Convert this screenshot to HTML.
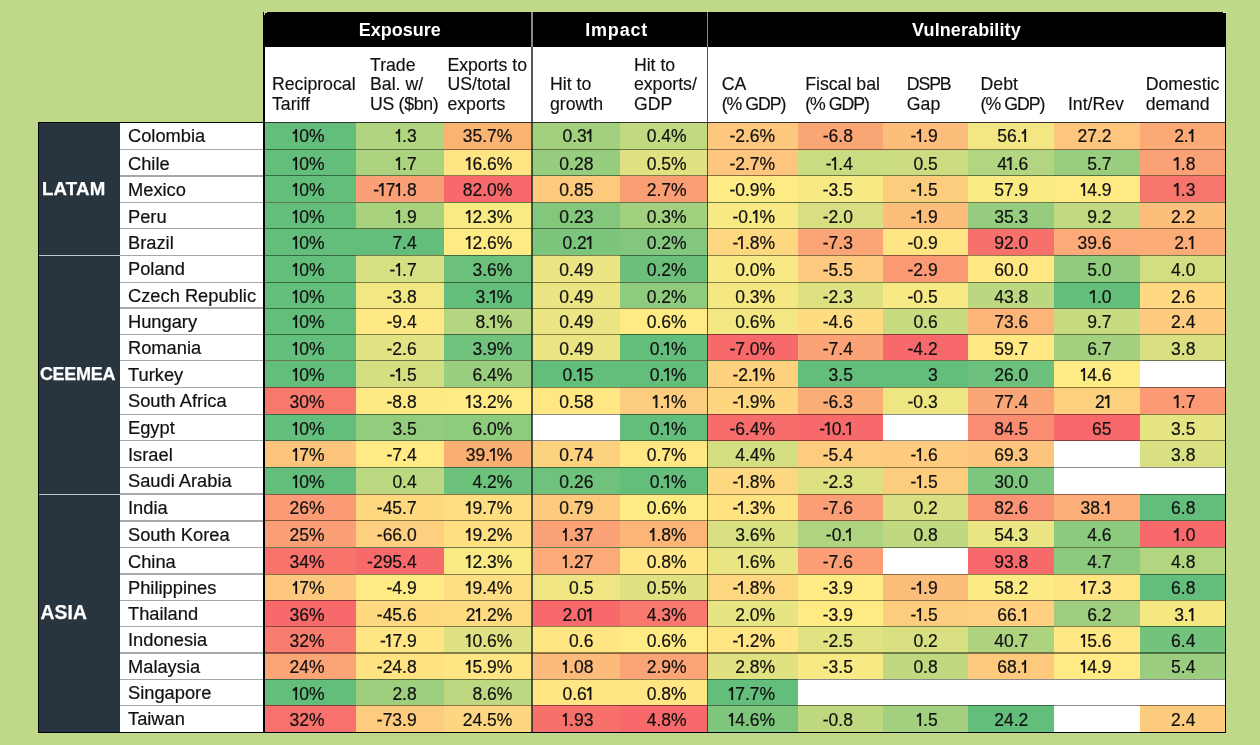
<!DOCTYPE html><html><head><meta charset="utf-8"><style>
html,body{margin:0;padding:0;}
body{width:1260px;height:745px;background:#BFD88A;position:relative;overflow:hidden;font-family:"Liberation Sans",sans-serif;color:#111;}
.a{position:absolute;}
.o{position:relative;margin-left:1.2px;margin-right:0.6px;}
.o::before{content:'';position:absolute;left:-2.1px;top:3.4px;width:4.2px;height:1.6px;background:#111;transform:rotate(-38deg);transform-origin:right center;}
.c{position:absolute;}
.t{position:absolute;white-space:nowrap;font-size:17.5px;line-height:20px;-webkit-text-stroke:0.2px #111;}
.hd{position:absolute;white-space:nowrap;font-size:17.7px;line-height:19.3px;color:#111;-webkit-text-stroke:0.15px #111;}
.ct{position:absolute;white-space:nowrap;font-size:18.3px;line-height:20px;color:#111;-webkit-text-stroke:0.2px #111;}
.gp{position:absolute;white-space:nowrap;font-size:18px;font-weight:bold;color:#fff;line-height:20px;}
</style></head><body>

<div class="a" style="left:263px;top:12px;width:963px;height:34.5px;background:#000"></div>
<div class="a" style="left:263px;top:46.5px;width:963px;height:76px;background:#000"></div>
<div class="a" style="left:265px;top:46.5px;width:960px;height:75.5px;background:#fff"></div>
<div class="gp" style="left:358.7px;top:19.9px;letter-spacing:0px">Exposure</div>
<div class="gp" style="left:585.2px;top:19.9px;letter-spacing:0.82px">Impact</div>
<div class="gp" style="left:912.1px;top:19.9px;letter-spacing:0.1px">Vulnerability</div>
<div class="a" style="left:38px;top:121.5px;width:227px;height:611px;background:#000"></div>
<div class="a" style="left:39px;top:122.5px;width:81px;height:609px;background:#28353F"></div>
<div class="a" style="left:120px;top:122.5px;width:143px;height:609px;background:#fff"></div>
<div class="a" style="left:39px;top:254.70000000000002px;width:81px;height:1.4px;background:#B9C4CB"></div>
<div class="a" style="left:39px;top:493.5px;width:81px;height:1.4px;background:#B9C4CB"></div>
<div class="gp" style="left:41.9px;top:178.8px;letter-spacing:0.2px;font-size:18.7px;-webkit-text-stroke:0.25px #fff">LATAM</div>
<div class="gp" style="left:39.9px;top:364.3px;letter-spacing:-0.28px;font-size:18px;-webkit-text-stroke:0.25px #fff">CEEMEA</div>
<div class="gp" style="left:40.6px;top:602.5px;letter-spacing:0.1px;font-size:19.3px;-webkit-text-stroke:0.25px #fff">ASIA</div>
<div class="ct" style="left:128px;top:126px">Colombia</div>
<div class="c" style="left:265px;top:122px;width:90.5px;height:27.5px;background:#63BE7B"></div>
<div class="t" style="right:935.5px;top:126.25px"><span class="o">I</span>0%</div>
<div class="c" style="left:355.5px;top:122px;width:88.5px;height:27.5px;background:#B0D47F"></div>
<div class="t" style="right:843.3px;top:126.25px"><span class="o">I</span>.3</div>
<div class="c" style="left:444px;top:122px;width:88px;height:27.5px;background:#FAB472"></div>
<div class="t" style="right:747.6px;top:126.25px">35.7%</div>
<div class="c" style="left:532px;top:122px;width:88px;height:27.5px;background:#A3D07F"></div>
<div class="t" style="right:666.6px;top:126.25px">0.3<span class="o">I</span></div>
<div class="c" style="left:620px;top:122px;width:87.79999999999995px;height:27.5px;background:#C1D980"></div>
<div class="t" style="right:573.4px;top:126.25px">0.4%</div>
<div class="c" style="left:707.8px;top:122px;width:89.80000000000007px;height:27.5px;background:#FDC77D"></div>
<div class="t" style="right:484.9px;top:126.25px">-2.6%</div>
<div class="c" style="left:797.6px;top:122px;width:85.39999999999998px;height:27.5px;background:#F9A574"></div>
<div class="t" style="right:407.1px;top:126.25px">-6.8</div>
<div class="c" style="left:883px;top:122px;width:85px;height:27.5px;background:#FDBE7B"></div>
<div class="t" style="right:322.29999999999995px;top:126.25px">-<span class="o">I</span>.9</div>
<div class="c" style="left:968px;top:122px;width:86.29999999999995px;height:27.5px;background:#F2E783"></div>
<div class="t" style="right:231.70000000000005px;top:126.25px">56.<span class="o">I</span></div>
<div class="c" style="left:1054.3px;top:122px;width:85.70000000000005px;height:27.5px;background:#FDC57D"></div>
<div class="t" style="right:148.5px;top:126.25px">27.2</div>
<div class="c" style="left:1140px;top:122px;width:85px;height:27.5px;background:#FBAA76"></div>
<div class="t" style="right:64.59999999999991px;top:126.25px">2.<span class="o">I</span></div>
<div class="ct" style="left:128px;top:153.5px">Chile</div>
<div class="c" style="left:265px;top:149.5px;width:90.5px;height:26.30000000000001px;background:#63BE7B"></div>
<div class="t" style="right:935.5px;top:153.75px"><span class="o">I</span>0%</div>
<div class="c" style="left:355.5px;top:149.5px;width:88.5px;height:26.30000000000001px;background:#ABD37F"></div>
<div class="t" style="right:843.3px;top:153.75px"><span class="o">I</span>.7</div>
<div class="c" style="left:444px;top:149.5px;width:88px;height:26.30000000000001px;background:#FFE483"></div>
<div class="t" style="right:747.6px;top:153.75px"><span class="o">I</span>6.6%</div>
<div class="c" style="left:532px;top:149.5px;width:88px;height:26.30000000000001px;background:#97CD7E"></div>
<div class="t" style="right:666.6px;top:153.75px">0.28</div>
<div class="c" style="left:620px;top:149.5px;width:87.79999999999995px;height:26.30000000000001px;background:#E0E282"></div>
<div class="t" style="right:573.4px;top:153.75px">0.5%</div>
<div class="c" style="left:707.8px;top:149.5px;width:89.80000000000007px;height:26.30000000000001px;background:#FDC57D"></div>
<div class="t" style="right:484.9px;top:153.75px">-2.7%</div>
<div class="c" style="left:797.6px;top:149.5px;width:85.39999999999998px;height:26.30000000000001px;background:#CADC81"></div>
<div class="t" style="right:407.1px;top:153.75px">-<span class="o">I</span>.4</div>
<div class="c" style="left:883px;top:149.5px;width:85px;height:26.30000000000001px;background:#CCDC81"></div>
<div class="t" style="right:322.29999999999995px;top:153.75px">0.5</div>
<div class="c" style="left:968px;top:149.5px;width:86.29999999999995px;height:26.30000000000001px;background:#B1D580"></div>
<div class="t" style="right:231.70000000000005px;top:153.75px">4<span class="o">I</span>.6</div>
<div class="c" style="left:1054.3px;top:149.5px;width:85.70000000000005px;height:26.30000000000001px;background:#99CE7E"></div>
<div class="t" style="right:148.5px;top:153.75px">5.7</div>
<div class="c" style="left:1140px;top:149.5px;width:85px;height:26.30000000000001px;background:#FBA176"></div>
<div class="t" style="right:64.59999999999991px;top:153.75px"><span class="o">I</span>.8</div>
<div class="ct" style="left:128px;top:179.8px">Mexico</div>
<div class="c" style="left:265px;top:175.8px;width:90.5px;height:26.69999999999999px;background:#63BE7B"></div>
<div class="t" style="right:935.5px;top:180.05px"><span class="o">I</span>0%</div>
<div class="c" style="left:355.5px;top:175.8px;width:88.5px;height:26.69999999999999px;background:#FBA076"></div>
<div class="t" style="right:843.3px;top:180.05px">-<span class="o">I</span>7<span class="o">I</span>.8</div>
<div class="c" style="left:444px;top:175.8px;width:88px;height:26.69999999999999px;background:#F8696B"></div>
<div class="t" style="right:747.6px;top:180.05px">82.0%</div>
<div class="c" style="left:532px;top:175.8px;width:88px;height:26.69999999999999px;background:#FDC97C"></div>
<div class="t" style="right:666.6px;top:180.05px">0.85</div>
<div class="c" style="left:620px;top:175.8px;width:87.79999999999995px;height:26.69999999999999px;background:#F99F73"></div>
<div class="t" style="right:573.4px;top:180.05px">2.7%</div>
<div class="c" style="left:707.8px;top:175.8px;width:89.80000000000007px;height:26.69999999999999px;background:#FFEB84"></div>
<div class="t" style="right:484.9px;top:180.05px">-0.9%</div>
<div class="c" style="left:797.6px;top:175.8px;width:85.39999999999998px;height:26.69999999999999px;background:#F7E984"></div>
<div class="t" style="right:407.1px;top:180.05px">-3.5</div>
<div class="c" style="left:883px;top:175.8px;width:85px;height:26.69999999999999px;background:#FDCD7E"></div>
<div class="t" style="right:322.29999999999995px;top:180.05px">-<span class="o">I</span>.5</div>
<div class="c" style="left:968px;top:175.8px;width:86.29999999999995px;height:26.69999999999999px;background:#FAEA84"></div>
<div class="t" style="right:231.70000000000005px;top:180.05px">57.9</div>
<div class="c" style="left:1054.3px;top:175.8px;width:85.70000000000005px;height:26.69999999999999px;background:#FFEA84"></div>
<div class="t" style="right:148.5px;top:180.05px"><span class="o">I</span>4.9</div>
<div class="c" style="left:1140px;top:175.8px;width:85px;height:26.69999999999999px;background:#F8756D"></div>
<div class="t" style="right:64.59999999999991px;top:180.05px"><span class="o">I</span>.3</div>
<div class="ct" style="left:128px;top:206.5px">Peru</div>
<div class="c" style="left:265px;top:202.5px;width:90.5px;height:26.19999999999999px;background:#63BE7B"></div>
<div class="t" style="right:935.5px;top:206.75px"><span class="o">I</span>0%</div>
<div class="c" style="left:355.5px;top:202.5px;width:88.5px;height:26.19999999999999px;background:#A9D27F"></div>
<div class="t" style="right:843.3px;top:206.75px"><span class="o">I</span>.9</div>
<div class="c" style="left:444px;top:202.5px;width:88px;height:26.19999999999999px;background:#FAEA84"></div>
<div class="t" style="right:747.6px;top:206.75px"><span class="o">I</span>2.3%</div>
<div class="c" style="left:532px;top:202.5px;width:88px;height:26.19999999999999px;background:#83C77D"></div>
<div class="t" style="right:666.6px;top:206.75px">0.23</div>
<div class="c" style="left:620px;top:202.5px;width:87.79999999999995px;height:26.19999999999999px;background:#A1D07F"></div>
<div class="t" style="right:573.4px;top:206.75px">0.3%</div>
<div class="c" style="left:707.8px;top:202.5px;width:89.80000000000007px;height:26.19999999999999px;background:#F8E984"></div>
<div class="t" style="right:484.9px;top:206.75px">-0.<span class="o">I</span>%</div>
<div class="c" style="left:797.6px;top:202.5px;width:85.39999999999998px;height:26.19999999999999px;background:#D7DF82"></div>
<div class="t" style="right:407.1px;top:206.75px">-2.0</div>
<div class="c" style="left:883px;top:202.5px;width:85px;height:26.19999999999999px;background:#FDBE7B"></div>
<div class="t" style="right:322.29999999999995px;top:206.75px">-<span class="o">I</span>.9</div>
<div class="c" style="left:968px;top:202.5px;width:86.29999999999995px;height:26.19999999999999px;background:#95CC7E"></div>
<div class="t" style="right:231.70000000000005px;top:206.75px">35.3</div>
<div class="c" style="left:1054.3px;top:202.5px;width:85.70000000000005px;height:26.19999999999999px;background:#C1D980"></div>
<div class="t" style="right:148.5px;top:206.75px">9.2</div>
<div class="c" style="left:1140px;top:202.5px;width:85px;height:26.19999999999999px;background:#FDBD7B"></div>
<div class="t" style="right:64.59999999999991px;top:206.75px">2.2</div>
<div class="ct" style="left:128px;top:232.7px">Brazil</div>
<div class="c" style="left:265px;top:228.7px;width:90.5px;height:26.700000000000017px;background:#63BE7B"></div>
<div class="t" style="right:935.5px;top:232.95px"><span class="o">I</span>0%</div>
<div class="c" style="left:355.5px;top:228.7px;width:88.5px;height:26.700000000000017px;background:#63BE7B"></div>
<div class="t" style="right:843.3px;top:232.95px">7.4</div>
<div class="c" style="left:444px;top:228.7px;width:88px;height:26.700000000000017px;background:#FFEB84"></div>
<div class="t" style="right:747.6px;top:232.95px"><span class="o">I</span>2.6%</div>
<div class="c" style="left:532px;top:228.7px;width:88px;height:26.700000000000017px;background:#7BC57C"></div>
<div class="t" style="right:666.6px;top:232.95px">0.2<span class="o">I</span></div>
<div class="c" style="left:620px;top:228.7px;width:87.79999999999995px;height:26.700000000000017px;background:#82C77D"></div>
<div class="t" style="right:573.4px;top:232.95px">0.2%</div>
<div class="c" style="left:707.8px;top:228.7px;width:89.80000000000007px;height:26.700000000000017px;background:#FED880"></div>
<div class="t" style="right:484.9px;top:232.95px">-<span class="o">I</span>.8%</div>
<div class="c" style="left:797.6px;top:228.7px;width:85.39999999999998px;height:26.700000000000017px;background:#FBA476"></div>
<div class="t" style="right:407.1px;top:232.95px">-7.3</div>
<div class="c" style="left:883px;top:228.7px;width:85px;height:26.700000000000017px;background:#FFE483"></div>
<div class="t" style="right:322.29999999999995px;top:232.95px">-0.9</div>
<div class="c" style="left:968px;top:228.7px;width:86.29999999999995px;height:26.700000000000017px;background:#F8706C"></div>
<div class="t" style="right:231.70000000000005px;top:232.95px">92.0</div>
<div class="c" style="left:1054.3px;top:228.7px;width:85.70000000000005px;height:26.700000000000017px;background:#FCAB78"></div>
<div class="t" style="right:148.5px;top:232.95px">39.6</div>
<div class="c" style="left:1140px;top:228.7px;width:85px;height:26.700000000000017px;background:#FBAC77"></div>
<div class="t" style="right:64.59999999999991px;top:232.95px">2.<span class="o">I</span></div>
<div class="ct" style="left:128px;top:259.4px">Poland</div>
<div class="c" style="left:265px;top:255.4px;width:90.5px;height:26.900000000000006px;background:#63BE7B"></div>
<div class="t" style="right:935.5px;top:259.65px"><span class="o">I</span>0%</div>
<div class="c" style="left:355.5px;top:255.4px;width:88.5px;height:26.900000000000006px;background:#D6DF82"></div>
<div class="t" style="right:843.3px;top:259.65px">-<span class="o">I</span>.7</div>
<div class="c" style="left:444px;top:255.4px;width:88px;height:26.900000000000006px;background:#6BC07B"></div>
<div class="t" style="right:747.6px;top:259.65px">3.6%</div>
<div class="c" style="left:532px;top:255.4px;width:88px;height:26.900000000000006px;background:#EBE583"></div>
<div class="t" style="right:666.6px;top:259.65px">0.49</div>
<div class="c" style="left:620px;top:255.4px;width:87.79999999999995px;height:26.900000000000006px;background:#6BBF7B"></div>
<div class="t" style="right:573.4px;top:259.65px">0.2%</div>
<div class="c" style="left:707.8px;top:255.4px;width:89.80000000000007px;height:26.900000000000006px;background:#F7E984"></div>
<div class="t" style="right:484.9px;top:259.65px">0.0%</div>
<div class="c" style="left:797.6px;top:255.4px;width:85.39999999999998px;height:26.900000000000006px;background:#FDC97E"></div>
<div class="t" style="right:407.1px;top:259.65px">-5.5</div>
<div class="c" style="left:883px;top:255.4px;width:85px;height:26.900000000000006px;background:#FB9974"></div>
<div class="t" style="right:322.29999999999995px;top:259.65px">-2.9</div>
<div class="c" style="left:968px;top:255.4px;width:86.29999999999995px;height:26.900000000000006px;background:#FFE783"></div>
<div class="t" style="right:231.70000000000005px;top:259.65px">60.0</div>
<div class="c" style="left:1054.3px;top:255.4px;width:85.70000000000005px;height:26.900000000000006px;background:#91CB7E"></div>
<div class="t" style="right:148.5px;top:259.65px">5.0</div>
<div class="c" style="left:1140px;top:255.4px;width:85px;height:26.900000000000006px;background:#D2DE81"></div>
<div class="t" style="right:64.59999999999991px;top:259.65px">4.0</div>
<div class="ct" style="left:128px;top:286.3px">Czech Republic</div>
<div class="c" style="left:265px;top:282.3px;width:90.5px;height:25.899999999999977px;background:#63BE7B"></div>
<div class="t" style="right:935.5px;top:286.55px"><span class="o">I</span>0%</div>
<div class="c" style="left:355.5px;top:282.3px;width:88.5px;height:25.899999999999977px;background:#F1E783"></div>
<div class="t" style="right:843.3px;top:286.55px">-3.8</div>
<div class="c" style="left:444px;top:282.3px;width:88px;height:25.899999999999977px;background:#63BE7B"></div>
<div class="t" style="right:747.6px;top:286.55px">3.<span class="o">I</span>%</div>
<div class="c" style="left:532px;top:282.3px;width:88px;height:25.899999999999977px;background:#EBE583"></div>
<div class="t" style="right:666.6px;top:286.55px">0.49</div>
<div class="c" style="left:620px;top:282.3px;width:87.79999999999995px;height:25.899999999999977px;background:#8FCB7D"></div>
<div class="t" style="right:573.4px;top:286.55px">0.2%</div>
<div class="c" style="left:707.8px;top:282.3px;width:89.80000000000007px;height:25.899999999999977px;background:#F5E883"></div>
<div class="t" style="right:484.9px;top:286.55px">0.3%</div>
<div class="c" style="left:797.6px;top:282.3px;width:85.39999999999998px;height:25.899999999999977px;background:#DDE182"></div>
<div class="t" style="right:407.1px;top:286.55px">-2.3</div>
<div class="c" style="left:883px;top:282.3px;width:85px;height:25.899999999999977px;background:#F7E984"></div>
<div class="t" style="right:322.29999999999995px;top:286.55px">-0.5</div>
<div class="c" style="left:968px;top:282.3px;width:86.29999999999995px;height:25.899999999999977px;background:#BBD780"></div>
<div class="t" style="right:231.70000000000005px;top:286.55px">43.8</div>
<div class="c" style="left:1054.3px;top:282.3px;width:85.70000000000005px;height:25.899999999999977px;background:#63BE7B"></div>
<div class="t" style="right:148.5px;top:286.55px"><span class="o">I</span>.0</div>
<div class="c" style="left:1140px;top:282.3px;width:85px;height:25.899999999999977px;background:#FED981"></div>
<div class="t" style="right:64.59999999999991px;top:286.55px">2.6</div>
<div class="ct" style="left:128px;top:312.2px">Hungary</div>
<div class="c" style="left:265px;top:308.2px;width:90.5px;height:26.100000000000023px;background:#63BE7B"></div>
<div class="t" style="right:935.5px;top:312.45px"><span class="o">I</span>0%</div>
<div class="c" style="left:355.5px;top:308.2px;width:88.5px;height:26.100000000000023px;background:#FFE984"></div>
<div class="t" style="right:843.3px;top:312.45px">-9.4</div>
<div class="c" style="left:444px;top:308.2px;width:88px;height:26.100000000000023px;background:#B5D680"></div>
<div class="t" style="right:747.6px;top:312.45px">8.<span class="o">I</span>%</div>
<div class="c" style="left:532px;top:308.2px;width:88px;height:26.100000000000023px;background:#EBE583"></div>
<div class="t" style="right:666.6px;top:312.45px">0.49</div>
<div class="c" style="left:620px;top:308.2px;width:87.79999999999995px;height:26.100000000000023px;background:#FFEB84"></div>
<div class="t" style="right:573.4px;top:312.45px">0.6%</div>
<div class="c" style="left:707.8px;top:308.2px;width:89.80000000000007px;height:26.100000000000023px;background:#F2E783"></div>
<div class="t" style="right:484.9px;top:312.45px">0.6%</div>
<div class="c" style="left:797.6px;top:308.2px;width:85.39999999999998px;height:26.100000000000023px;background:#FEDC81"></div>
<div class="t" style="right:407.1px;top:312.45px">-4.6</div>
<div class="c" style="left:883px;top:308.2px;width:85px;height:26.100000000000023px;background:#C8DB81"></div>
<div class="t" style="right:322.29999999999995px;top:312.45px">0.6</div>
<div class="c" style="left:968px;top:308.2px;width:86.29999999999995px;height:26.100000000000023px;background:#FCB479"></div>
<div class="t" style="right:231.70000000000005px;top:312.45px">73.6</div>
<div class="c" style="left:1054.3px;top:308.2px;width:85.70000000000005px;height:26.100000000000023px;background:#C7DB81"></div>
<div class="t" style="right:148.5px;top:312.45px">9.7</div>
<div class="c" style="left:1140px;top:308.2px;width:85px;height:26.100000000000023px;background:#FDCB7E"></div>
<div class="t" style="right:64.59999999999991px;top:312.45px">2.4</div>
<div class="ct" style="left:128px;top:338.3px">Romania</div>
<div class="c" style="left:265px;top:334.3px;width:90.5px;height:26.19999999999999px;background:#63BE7B"></div>
<div class="t" style="right:935.5px;top:338.55px"><span class="o">I</span>0%</div>
<div class="c" style="left:355.5px;top:334.3px;width:88.5px;height:26.19999999999999px;background:#E2E382"></div>
<div class="t" style="right:843.3px;top:338.55px">-2.6</div>
<div class="c" style="left:444px;top:334.3px;width:88px;height:26.19999999999999px;background:#70C27C"></div>
<div class="t" style="right:747.6px;top:338.55px">3.9%</div>
<div class="c" style="left:532px;top:334.3px;width:88px;height:26.19999999999999px;background:#EBE583"></div>
<div class="t" style="right:666.6px;top:338.55px">0.49</div>
<div class="c" style="left:620px;top:334.3px;width:87.79999999999995px;height:26.19999999999999px;background:#63BE7B"></div>
<div class="t" style="right:573.4px;top:338.55px">0.<span class="o">I</span>%</div>
<div class="c" style="left:707.8px;top:334.3px;width:89.80000000000007px;height:26.19999999999999px;background:#F8696B"></div>
<div class="t" style="right:484.9px;top:338.55px">-7.0%</div>
<div class="c" style="left:797.6px;top:334.3px;width:85.39999999999998px;height:26.19999999999999px;background:#FBA276"></div>
<div class="t" style="right:407.1px;top:338.55px">-7.4</div>
<div class="c" style="left:883px;top:334.3px;width:85px;height:26.19999999999999px;background:#F8696B"></div>
<div class="t" style="right:322.29999999999995px;top:338.55px">-4.2</div>
<div class="c" style="left:968px;top:334.3px;width:86.29999999999995px;height:26.19999999999999px;background:#FFE883"></div>
<div class="t" style="right:231.70000000000005px;top:338.55px">59.7</div>
<div class="c" style="left:1054.3px;top:334.3px;width:85.70000000000005px;height:26.19999999999999px;background:#A4D17F"></div>
<div class="t" style="right:148.5px;top:338.55px">6.7</div>
<div class="c" style="left:1140px;top:334.3px;width:85px;height:26.19999999999999px;background:#D9E082"></div>
<div class="t" style="right:64.59999999999991px;top:338.55px">3.8</div>
<div class="ct" style="left:128px;top:364.5px">Turkey</div>
<div class="c" style="left:265px;top:360.5px;width:90.5px;height:26.80000000000001px;background:#63BE7B"></div>
<div class="t" style="right:935.5px;top:364.75px"><span class="o">I</span>0%</div>
<div class="c" style="left:355.5px;top:360.5px;width:88.5px;height:26.80000000000001px;background:#D4DF82"></div>
<div class="t" style="right:843.3px;top:364.75px">-<span class="o">I</span>.5</div>
<div class="c" style="left:444px;top:360.5px;width:88px;height:26.80000000000001px;background:#99CE7E"></div>
<div class="t" style="right:747.6px;top:364.75px">6.4%</div>
<div class="c" style="left:532px;top:360.5px;width:88px;height:26.80000000000001px;background:#63BE7B"></div>
<div class="t" style="right:666.6px;top:364.75px">0.<span class="o">I</span>5</div>
<div class="c" style="left:620px;top:360.5px;width:87.79999999999995px;height:26.80000000000001px;background:#63BE7B"></div>
<div class="t" style="right:573.4px;top:364.75px">0.<span class="o">I</span>%</div>
<div class="c" style="left:707.8px;top:360.5px;width:89.80000000000007px;height:26.80000000000001px;background:#FED17F"></div>
<div class="t" style="right:484.9px;top:364.75px">-2.<span class="o">I</span>%</div>
<div class="c" style="left:797.6px;top:360.5px;width:85.39999999999998px;height:26.80000000000001px;background:#63BE7B"></div>
<div class="t" style="right:407.1px;top:364.75px">3.5</div>
<div class="c" style="left:883px;top:360.5px;width:85px;height:26.80000000000001px;background:#63BE7B"></div>
<div class="t" style="right:322.29999999999995px;top:364.75px">3</div>
<div class="c" style="left:968px;top:360.5px;width:86.29999999999995px;height:26.80000000000001px;background:#6BC07B"></div>
<div class="t" style="right:231.70000000000005px;top:364.75px">26.0</div>
<div class="c" style="left:1054.3px;top:360.5px;width:85.70000000000005px;height:26.80000000000001px;background:#FFEB84"></div>
<div class="t" style="right:148.5px;top:364.75px"><span class="o">I</span>4.6</div>
<div class="c" style="left:1140px;top:360.5px;width:85px;height:26.80000000000001px;background:#FFFFFF"></div>
<div class="ct" style="left:128px;top:391.3px">South Africa</div>
<div class="c" style="left:265px;top:387.3px;width:90.5px;height:27.0px;background:#F7786D"></div>
<div class="t" style="right:935.5px;top:391.55px">30%</div>
<div class="c" style="left:355.5px;top:387.3px;width:88.5px;height:27.0px;background:#FFE984"></div>
<div class="t" style="right:843.3px;top:391.55px">-8.8</div>
<div class="c" style="left:444px;top:387.3px;width:88px;height:27.0px;background:#FFEA84"></div>
<div class="t" style="right:747.6px;top:391.55px"><span class="o">I</span>3.2%</div>
<div class="c" style="left:532px;top:387.3px;width:88px;height:27.0px;background:#FFE783"></div>
<div class="t" style="right:666.6px;top:391.55px">0.58</div>
<div class="c" style="left:620px;top:387.3px;width:87.79999999999995px;height:27.0px;background:#FCCD7E"></div>
<div class="t" style="right:573.4px;top:391.55px"><span class="o">I</span>.<span class="o">I</span>%</div>
<div class="c" style="left:707.8px;top:387.3px;width:89.80000000000007px;height:27.0px;background:#FED680"></div>
<div class="t" style="right:484.9px;top:391.55px">-<span class="o">I</span>.9%</div>
<div class="c" style="left:797.6px;top:387.3px;width:85.39999999999998px;height:27.0px;background:#FAAE75"></div>
<div class="t" style="right:407.1px;top:391.55px">-6.3</div>
<div class="c" style="left:883px;top:387.3px;width:85px;height:27.0px;background:#EEE683"></div>
<div class="t" style="right:322.29999999999995px;top:391.55px">-0.3</div>
<div class="c" style="left:968px;top:387.3px;width:86.29999999999995px;height:27.0px;background:#FBA677"></div>
<div class="t" style="right:231.70000000000005px;top:391.55px">77.4</div>
<div class="c" style="left:1054.3px;top:387.3px;width:85.70000000000005px;height:27.0px;background:#FDD07E"></div>
<div class="t" style="right:148.5px;top:391.55px">2<span class="o">I</span></div>
<div class="c" style="left:1140px;top:387.3px;width:85px;height:27.0px;background:#FB9A74"></div>
<div class="t" style="right:64.59999999999991px;top:391.55px"><span class="o">I</span>.7</div>
<div class="ct" style="left:128px;top:418.3px">Egypt</div>
<div class="c" style="left:265px;top:414.3px;width:90.5px;height:26.399999999999977px;background:#63BE7B"></div>
<div class="t" style="right:935.5px;top:418.55px"><span class="o">I</span>0%</div>
<div class="c" style="left:355.5px;top:414.3px;width:88.5px;height:26.399999999999977px;background:#94CC7E"></div>
<div class="t" style="right:843.3px;top:418.55px">3.5</div>
<div class="c" style="left:444px;top:414.3px;width:88px;height:26.399999999999977px;background:#8FCB7D"></div>
<div class="t" style="right:747.6px;top:418.55px">6.0%</div>
<div class="c" style="left:532px;top:414.3px;width:88px;height:26.399999999999977px;background:#FFFFFF"></div>
<div class="c" style="left:620px;top:414.3px;width:87.79999999999995px;height:26.399999999999977px;background:#63BE7B"></div>
<div class="t" style="right:573.4px;top:418.55px">0.<span class="o">I</span>%</div>
<div class="c" style="left:707.8px;top:414.3px;width:89.80000000000007px;height:26.399999999999977px;background:#F66D6C"></div>
<div class="t" style="right:484.9px;top:418.55px">-6.4%</div>
<div class="c" style="left:797.6px;top:414.3px;width:85.39999999999998px;height:26.399999999999977px;background:#F8696B"></div>
<div class="t" style="right:407.1px;top:418.55px">-<span class="o">I</span>0.<span class="o">I</span></div>
<div class="c" style="left:883px;top:414.3px;width:85px;height:26.399999999999977px;background:#FFFFFF"></div>
<div class="c" style="left:968px;top:414.3px;width:86.29999999999995px;height:26.399999999999977px;background:#FA8C72"></div>
<div class="t" style="right:231.70000000000005px;top:418.55px">84.5</div>
<div class="c" style="left:1054.3px;top:414.3px;width:85.70000000000005px;height:26.399999999999977px;background:#F8696B"></div>
<div class="t" style="right:148.5px;top:418.55px">65</div>
<div class="c" style="left:1140px;top:414.3px;width:85px;height:26.399999999999977px;background:#E5E483"></div>
<div class="t" style="right:64.59999999999991px;top:418.55px">3.5</div>
<div class="ct" style="left:128px;top:444.7px">Israel</div>
<div class="c" style="left:265px;top:440.7px;width:90.5px;height:26.69999999999999px;background:#FCC57B"></div>
<div class="t" style="right:935.5px;top:444.95px"><span class="o">I</span>7%</div>
<div class="c" style="left:355.5px;top:440.7px;width:88.5px;height:26.69999999999999px;background:#FFEA84"></div>
<div class="t" style="right:843.3px;top:444.95px">-7.4</div>
<div class="c" style="left:444px;top:440.7px;width:88px;height:26.69999999999999px;background:#F9AE72"></div>
<div class="t" style="right:747.6px;top:444.95px">39.<span class="o">I</span>%</div>
<div class="c" style="left:532px;top:440.7px;width:88px;height:26.69999999999999px;background:#FDD27F"></div>
<div class="t" style="right:666.6px;top:444.95px">0.74</div>
<div class="c" style="left:620px;top:440.7px;width:87.79999999999995px;height:26.69999999999999px;background:#FFE883"></div>
<div class="t" style="right:573.4px;top:444.95px">0.7%</div>
<div class="c" style="left:707.8px;top:440.7px;width:89.80000000000007px;height:26.69999999999999px;background:#D3DE81"></div>
<div class="t" style="right:484.9px;top:444.95px">4.4%</div>
<div class="c" style="left:797.6px;top:440.7px;width:85.39999999999998px;height:26.69999999999999px;background:#FDCC7E"></div>
<div class="t" style="right:407.1px;top:444.95px">-5.4</div>
<div class="c" style="left:883px;top:440.7px;width:85px;height:26.69999999999999px;background:#FDCA7E"></div>
<div class="t" style="right:322.29999999999995px;top:444.95px">-<span class="o">I</span>.6</div>
<div class="c" style="left:968px;top:440.7px;width:86.29999999999995px;height:26.69999999999999px;background:#FDC47D"></div>
<div class="t" style="right:231.70000000000005px;top:444.95px">69.3</div>
<div class="c" style="left:1054.3px;top:440.7px;width:85.70000000000005px;height:26.69999999999999px;background:#FFFFFF"></div>
<div class="c" style="left:1140px;top:440.7px;width:85px;height:26.69999999999999px;background:#D9E082"></div>
<div class="t" style="right:64.59999999999991px;top:444.95px">3.8</div>
<div class="ct" style="left:128px;top:471.4px">Saudi Arabia</div>
<div class="c" style="left:265px;top:467.4px;width:90.5px;height:26.80000000000001px;background:#63BE7B"></div>
<div class="t" style="right:935.5px;top:471.65px"><span class="o">I</span>0%</div>
<div class="c" style="left:355.5px;top:467.4px;width:88.5px;height:26.80000000000001px;background:#BCD880"></div>
<div class="t" style="right:843.3px;top:471.65px">0.4</div>
<div class="c" style="left:444px;top:467.4px;width:88px;height:26.80000000000001px;background:#6CC17B"></div>
<div class="t" style="right:747.6px;top:471.65px">4.2%</div>
<div class="c" style="left:532px;top:467.4px;width:88px;height:26.80000000000001px;background:#6EC27B"></div>
<div class="t" style="right:666.6px;top:471.65px">0.26</div>
<div class="c" style="left:620px;top:467.4px;width:87.79999999999995px;height:26.80000000000001px;background:#63BE7B"></div>
<div class="t" style="right:573.4px;top:471.65px">0.<span class="o">I</span>%</div>
<div class="c" style="left:707.8px;top:467.4px;width:89.80000000000007px;height:26.80000000000001px;background:#FED880"></div>
<div class="t" style="right:484.9px;top:471.65px">-<span class="o">I</span>.8%</div>
<div class="c" style="left:797.6px;top:467.4px;width:85.39999999999998px;height:26.80000000000001px;background:#DDE182"></div>
<div class="t" style="right:407.1px;top:471.65px">-2.3</div>
<div class="c" style="left:883px;top:467.4px;width:85px;height:26.80000000000001px;background:#FDCD7E"></div>
<div class="t" style="right:322.29999999999995px;top:471.65px">-<span class="o">I</span>.5</div>
<div class="c" style="left:968px;top:467.4px;width:86.29999999999995px;height:26.80000000000001px;background:#7DC67D"></div>
<div class="t" style="right:231.70000000000005px;top:471.65px">30.0</div>
<div class="c" style="left:1054.3px;top:467.4px;width:85.70000000000005px;height:26.80000000000001px;background:#FFFFFF"></div>
<div class="c" style="left:1140px;top:467.4px;width:85px;height:26.80000000000001px;background:#FFFFFF"></div>
<div class="ct" style="left:128px;top:498.2px">India</div>
<div class="c" style="left:265px;top:494.2px;width:90.5px;height:26.69999999999999px;background:#FB9B75"></div>
<div class="t" style="right:935.5px;top:498.45px">26%</div>
<div class="c" style="left:355.5px;top:494.2px;width:88.5px;height:26.69999999999999px;background:#FED980"></div>
<div class="t" style="right:843.3px;top:498.45px">-45.7</div>
<div class="c" style="left:444px;top:494.2px;width:88px;height:26.69999999999999px;background:#FEDE81"></div>
<div class="t" style="right:747.6px;top:498.45px"><span class="o">I</span>9.7%</div>
<div class="c" style="left:532px;top:494.2px;width:88px;height:26.69999999999999px;background:#FDC97D"></div>
<div class="t" style="right:666.6px;top:498.45px">0.79</div>
<div class="c" style="left:620px;top:494.2px;width:87.79999999999995px;height:26.69999999999999px;background:#FFEB84"></div>
<div class="t" style="right:573.4px;top:498.45px">0.6%</div>
<div class="c" style="left:707.8px;top:494.2px;width:89.80000000000007px;height:26.69999999999999px;background:#FFE282"></div>
<div class="t" style="right:484.9px;top:498.45px">-<span class="o">I</span>.3%</div>
<div class="c" style="left:797.6px;top:494.2px;width:85.39999999999998px;height:26.69999999999999px;background:#FB9D75"></div>
<div class="t" style="right:407.1px;top:498.45px">-7.6</div>
<div class="c" style="left:883px;top:494.2px;width:85px;height:26.69999999999999px;background:#D9E082"></div>
<div class="t" style="right:322.29999999999995px;top:498.45px">0.2</div>
<div class="c" style="left:968px;top:494.2px;width:86.29999999999995px;height:26.69999999999999px;background:#FA9373"></div>
<div class="t" style="right:231.70000000000005px;top:498.45px">82.6</div>
<div class="c" style="left:1054.3px;top:494.2px;width:85.70000000000005px;height:26.69999999999999px;background:#FCAE78"></div>
<div class="t" style="right:148.5px;top:498.45px">38.<span class="o">I</span></div>
<div class="c" style="left:1140px;top:494.2px;width:85px;height:26.69999999999999px;background:#63BE7B"></div>
<div class="t" style="right:64.59999999999991px;top:498.45px">6.8</div>
<div class="ct" style="left:128px;top:524.9px">South Korea</div>
<div class="c" style="left:265px;top:520.9px;width:90.5px;height:26.600000000000023px;background:#FBA076"></div>
<div class="t" style="right:935.5px;top:525.15px">25%</div>
<div class="c" style="left:355.5px;top:520.9px;width:88.5px;height:26.600000000000023px;background:#FED07F"></div>
<div class="t" style="right:843.3px;top:525.15px">-66.0</div>
<div class="c" style="left:444px;top:520.9px;width:88px;height:26.600000000000023px;background:#FEDF82"></div>
<div class="t" style="right:747.6px;top:525.15px"><span class="o">I</span>9.2%</div>
<div class="c" style="left:532px;top:520.9px;width:88px;height:26.600000000000023px;background:#FBA276"></div>
<div class="t" style="right:666.6px;top:525.15px"><span class="o">I</span>.37</div>
<div class="c" style="left:620px;top:520.9px;width:87.79999999999995px;height:26.600000000000023px;background:#FBB577"></div>
<div class="t" style="right:573.4px;top:525.15px"><span class="o">I</span>.8%</div>
<div class="c" style="left:707.8px;top:520.9px;width:89.80000000000007px;height:26.600000000000023px;background:#D9E082"></div>
<div class="t" style="right:484.9px;top:525.15px">3.6%</div>
<div class="c" style="left:797.6px;top:520.9px;width:85.39999999999998px;height:26.600000000000023px;background:#AFD47F"></div>
<div class="t" style="right:407.1px;top:525.15px">-0.<span class="o">I</span></div>
<div class="c" style="left:883px;top:520.9px;width:85px;height:26.600000000000023px;background:#C0D980"></div>
<div class="t" style="right:322.29999999999995px;top:525.15px">0.8</div>
<div class="c" style="left:968px;top:520.9px;width:86.29999999999995px;height:26.600000000000023px;background:#EAE583"></div>
<div class="t" style="right:231.70000000000005px;top:525.15px">54.3</div>
<div class="c" style="left:1054.3px;top:520.9px;width:85.70000000000005px;height:26.600000000000023px;background:#8CCA7D"></div>
<div class="t" style="right:148.5px;top:525.15px">4.6</div>
<div class="c" style="left:1140px;top:520.9px;width:85px;height:26.600000000000023px;background:#F8696B"></div>
<div class="t" style="right:64.59999999999991px;top:525.15px"><span class="o">I</span>.0</div>
<div class="ct" style="left:128px;top:551.5px">China</div>
<div class="c" style="left:265px;top:547.5px;width:90.5px;height:26.700000000000045px;background:#F9736D"></div>
<div class="t" style="right:935.5px;top:551.75px">34%</div>
<div class="c" style="left:355.5px;top:547.5px;width:88.5px;height:26.700000000000045px;background:#F8696B"></div>
<div class="t" style="right:843.3px;top:551.75px">-295.4</div>
<div class="c" style="left:444px;top:547.5px;width:88px;height:26.700000000000045px;background:#FAEA84"></div>
<div class="t" style="right:747.6px;top:551.75px"><span class="o">I</span>2.3%</div>
<div class="c" style="left:532px;top:547.5px;width:88px;height:26.700000000000045px;background:#FCAA78"></div>
<div class="t" style="right:666.6px;top:551.75px"><span class="o">I</span>.27</div>
<div class="c" style="left:620px;top:547.5px;width:87.79999999999995px;height:26.700000000000045px;background:#FFE583"></div>
<div class="t" style="right:573.4px;top:551.75px">0.8%</div>
<div class="c" style="left:707.8px;top:547.5px;width:89.80000000000007px;height:26.700000000000045px;background:#EAE583"></div>
<div class="t" style="right:484.9px;top:551.75px"><span class="o">I</span>.6%</div>
<div class="c" style="left:797.6px;top:547.5px;width:85.39999999999998px;height:26.700000000000045px;background:#FB9D75"></div>
<div class="t" style="right:407.1px;top:551.75px">-7.6</div>
<div class="c" style="left:883px;top:547.5px;width:85px;height:26.700000000000045px;background:#FFFFFF"></div>
<div class="c" style="left:968px;top:547.5px;width:86.29999999999995px;height:26.700000000000045px;background:#F8696B"></div>
<div class="t" style="right:231.70000000000005px;top:551.75px">93.8</div>
<div class="c" style="left:1054.3px;top:547.5px;width:85.70000000000005px;height:26.700000000000045px;background:#8DCA7D"></div>
<div class="t" style="right:148.5px;top:551.75px">4.7</div>
<div class="c" style="left:1140px;top:547.5px;width:85px;height:26.700000000000045px;background:#B2D580"></div>
<div class="t" style="right:64.59999999999991px;top:551.75px">4.8</div>
<div class="ct" style="left:128px;top:578.2px">Philippines</div>
<div class="c" style="left:265px;top:574.2px;width:90.5px;height:26.09999999999991px;background:#FDC87D"></div>
<div class="t" style="right:935.5px;top:578.45px"><span class="o">I</span>7%</div>
<div class="c" style="left:355.5px;top:574.2px;width:88.5px;height:26.09999999999991px;background:#FFEB84"></div>
<div class="t" style="right:843.3px;top:578.45px">-4.9</div>
<div class="c" style="left:444px;top:574.2px;width:88px;height:26.09999999999991px;background:#FEDE82"></div>
<div class="t" style="right:747.6px;top:578.45px"><span class="o">I</span>9.4%</div>
<div class="c" style="left:532px;top:574.2px;width:88px;height:26.09999999999991px;background:#EFE683"></div>
<div class="t" style="right:666.6px;top:578.45px">0.5</div>
<div class="c" style="left:620px;top:574.2px;width:87.79999999999995px;height:26.09999999999991px;background:#E0E282"></div>
<div class="t" style="right:573.4px;top:578.45px">0.5%</div>
<div class="c" style="left:707.8px;top:574.2px;width:89.80000000000007px;height:26.09999999999991px;background:#FED880"></div>
<div class="t" style="right:484.9px;top:578.45px">-<span class="o">I</span>.8%</div>
<div class="c" style="left:797.6px;top:574.2px;width:85.39999999999998px;height:26.09999999999991px;background:#FFEB84"></div>
<div class="t" style="right:407.1px;top:578.45px">-3.9</div>
<div class="c" style="left:883px;top:574.2px;width:85px;height:26.09999999999991px;background:#FDBE7B"></div>
<div class="t" style="right:322.29999999999995px;top:578.45px">-<span class="o">I</span>.9</div>
<div class="c" style="left:968px;top:574.2px;width:86.29999999999995px;height:26.09999999999991px;background:#FCEA84"></div>
<div class="t" style="right:231.70000000000005px;top:578.45px">58.2</div>
<div class="c" style="left:1054.3px;top:574.2px;width:85.70000000000005px;height:26.09999999999991px;background:#FFE483"></div>
<div class="t" style="right:148.5px;top:578.45px"><span class="o">I</span>7.3</div>
<div class="c" style="left:1140px;top:574.2px;width:85px;height:26.09999999999991px;background:#63BE7B"></div>
<div class="t" style="right:64.59999999999991px;top:578.45px">6.8</div>
<div class="ct" style="left:128px;top:604.3px">Thailand</div>
<div class="c" style="left:265px;top:600.3px;width:90.5px;height:26.100000000000023px;background:#F8696B"></div>
<div class="t" style="right:935.5px;top:604.55px">36%</div>
<div class="c" style="left:355.5px;top:600.3px;width:88.5px;height:26.100000000000023px;background:#FED980"></div>
<div class="t" style="right:843.3px;top:604.55px">-45.6</div>
<div class="c" style="left:444px;top:600.3px;width:88px;height:26.100000000000023px;background:#FEDB81"></div>
<div class="t" style="right:747.6px;top:604.55px">2<span class="o">I</span>.2%</div>
<div class="c" style="left:532px;top:600.3px;width:88px;height:26.100000000000023px;background:#F8696B"></div>
<div class="t" style="right:666.6px;top:604.55px">2.0<span class="o">I</span></div>
<div class="c" style="left:620px;top:600.3px;width:87.79999999999995px;height:26.100000000000023px;background:#F9786E"></div>
<div class="t" style="right:573.4px;top:604.55px">4.3%</div>
<div class="c" style="left:707.8px;top:600.3px;width:89.80000000000007px;height:26.100000000000023px;background:#E7E483"></div>
<div class="t" style="right:484.9px;top:604.55px">2.0%</div>
<div class="c" style="left:797.6px;top:600.3px;width:85.39999999999998px;height:26.100000000000023px;background:#FFEB84"></div>
<div class="t" style="right:407.1px;top:604.55px">-3.9</div>
<div class="c" style="left:883px;top:600.3px;width:85px;height:26.100000000000023px;background:#FDCD7E"></div>
<div class="t" style="right:322.29999999999995px;top:604.55px">-<span class="o">I</span>.5</div>
<div class="c" style="left:968px;top:600.3px;width:86.29999999999995px;height:26.100000000000023px;background:#FED07F"></div>
<div class="t" style="right:231.70000000000005px;top:604.55px">66.<span class="o">I</span></div>
<div class="c" style="left:1054.3px;top:600.3px;width:85.70000000000005px;height:26.100000000000023px;background:#9FCF7E"></div>
<div class="t" style="right:148.5px;top:604.55px">6.2</div>
<div class="c" style="left:1140px;top:600.3px;width:85px;height:26.100000000000023px;background:#F5E883"></div>
<div class="t" style="right:64.59999999999991px;top:604.55px">3.<span class="o">I</span></div>
<div class="ct" style="left:128px;top:630.4px">Indonesia</div>
<div class="c" style="left:265px;top:626.4px;width:90.5px;height:26.600000000000023px;background:#F97D6F"></div>
<div class="t" style="right:935.5px;top:630.65px">32%</div>
<div class="c" style="left:355.5px;top:626.4px;width:88.5px;height:26.600000000000023px;background:#FFE583"></div>
<div class="t" style="right:843.3px;top:630.65px">-<span class="o">I</span>7.9</div>
<div class="c" style="left:444px;top:626.4px;width:88px;height:26.600000000000023px;background:#DEE282"></div>
<div class="t" style="right:747.6px;top:630.65px"><span class="o">I</span>0.6%</div>
<div class="c" style="left:532px;top:626.4px;width:88px;height:26.600000000000023px;background:#FFE683"></div>
<div class="t" style="right:666.6px;top:630.65px">0.6</div>
<div class="c" style="left:620px;top:626.4px;width:87.79999999999995px;height:26.600000000000023px;background:#FFEB84"></div>
<div class="t" style="right:573.4px;top:630.65px">0.6%</div>
<div class="c" style="left:707.8px;top:626.4px;width:89.80000000000007px;height:26.600000000000023px;background:#FFE583"></div>
<div class="t" style="right:484.9px;top:630.65px">-<span class="o">I</span>.2%</div>
<div class="c" style="left:797.6px;top:626.4px;width:85.39999999999998px;height:26.600000000000023px;background:#E1E282"></div>
<div class="t" style="right:407.1px;top:630.65px">-2.5</div>
<div class="c" style="left:883px;top:626.4px;width:85px;height:26.600000000000023px;background:#D9E082"></div>
<div class="t" style="right:322.29999999999995px;top:630.65px">0.2</div>
<div class="c" style="left:968px;top:626.4px;width:86.29999999999995px;height:26.600000000000023px;background:#ADD37F"></div>
<div class="t" style="right:231.70000000000005px;top:630.65px">40.7</div>
<div class="c" style="left:1054.3px;top:626.4px;width:85.70000000000005px;height:26.600000000000023px;background:#FFE884"></div>
<div class="t" style="right:148.5px;top:630.65px"><span class="o">I</span>5.6</div>
<div class="c" style="left:1140px;top:626.4px;width:85px;height:26.600000000000023px;background:#73C37C"></div>
<div class="t" style="right:64.59999999999991px;top:630.65px">6.4</div>
<div class="ct" style="left:128px;top:657.0px">Malaysia</div>
<div class="c" style="left:265px;top:653.0px;width:90.5px;height:26.299999999999955px;background:#FBA577"></div>
<div class="t" style="right:935.5px;top:657.25px">24%</div>
<div class="c" style="left:355.5px;top:653.0px;width:88.5px;height:26.299999999999955px;background:#FFE282"></div>
<div class="t" style="right:843.3px;top:657.25px">-24.8</div>
<div class="c" style="left:444px;top:653.0px;width:88px;height:26.299999999999955px;background:#FFE583"></div>
<div class="t" style="right:747.6px;top:657.25px"><span class="o">I</span>5.9%</div>
<div class="c" style="left:532px;top:653.0px;width:88px;height:26.299999999999955px;background:#FCBB7B"></div>
<div class="t" style="right:666.6px;top:657.25px"><span class="o">I</span>.08</div>
<div class="c" style="left:620px;top:653.0px;width:87.79999999999995px;height:26.299999999999955px;background:#FBA476"></div>
<div class="t" style="right:573.4px;top:657.25px">2.9%</div>
<div class="c" style="left:707.8px;top:653.0px;width:89.80000000000007px;height:26.299999999999955px;background:#E0E282"></div>
<div class="t" style="right:484.9px;top:657.25px">2.8%</div>
<div class="c" style="left:797.6px;top:653.0px;width:85.39999999999998px;height:26.299999999999955px;background:#F7E984"></div>
<div class="t" style="right:407.1px;top:657.25px">-3.5</div>
<div class="c" style="left:883px;top:653.0px;width:85px;height:26.299999999999955px;background:#C0D980"></div>
<div class="t" style="right:322.29999999999995px;top:657.25px">0.8</div>
<div class="c" style="left:968px;top:653.0px;width:86.29999999999995px;height:26.299999999999955px;background:#FDC97D"></div>
<div class="t" style="right:231.70000000000005px;top:657.25px">68.<span class="o">I</span></div>
<div class="c" style="left:1054.3px;top:653.0px;width:85.70000000000005px;height:26.299999999999955px;background:#FFEA84"></div>
<div class="t" style="right:148.5px;top:657.25px"><span class="o">I</span>4.9</div>
<div class="c" style="left:1140px;top:653.0px;width:85px;height:26.299999999999955px;background:#9ACE7E"></div>
<div class="t" style="right:64.59999999999991px;top:657.25px">5.4</div>
<div class="ct" style="left:128px;top:683.3px">Singapore</div>
<div class="c" style="left:265px;top:679.3px;width:90.5px;height:26.100000000000023px;background:#63BE7B"></div>
<div class="t" style="right:935.5px;top:683.55px"><span class="o">I</span>0%</div>
<div class="c" style="left:355.5px;top:679.3px;width:88.5px;height:26.100000000000023px;background:#9DCF7E"></div>
<div class="t" style="right:843.3px;top:683.55px">2.8</div>
<div class="c" style="left:444px;top:679.3px;width:88px;height:26.100000000000023px;background:#BDD880"></div>
<div class="t" style="right:747.6px;top:683.55px">8.6%</div>
<div class="c" style="left:532px;top:679.3px;width:88px;height:26.100000000000023px;background:#FFE583"></div>
<div class="t" style="right:666.6px;top:683.55px">0.6<span class="o">I</span></div>
<div class="c" style="left:620px;top:679.3px;width:87.79999999999995px;height:26.100000000000023px;background:#FFE583"></div>
<div class="t" style="right:573.4px;top:683.55px">0.8%</div>
<div class="c" style="left:707.8px;top:679.3px;width:89.80000000000007px;height:26.100000000000023px;background:#63BE7B"></div>
<div class="t" style="right:484.9px;top:683.55px"><span class="o">I</span>7.7%</div>
<div class="c" style="left:797.6px;top:679.3px;width:85.39999999999998px;height:26.100000000000023px;background:#FFFFFF"></div>
<div class="c" style="left:883px;top:679.3px;width:85px;height:26.100000000000023px;background:#FFFFFF"></div>
<div class="c" style="left:968px;top:679.3px;width:86.29999999999995px;height:26.100000000000023px;background:#FFFFFF"></div>
<div class="c" style="left:1054.3px;top:679.3px;width:85.70000000000005px;height:26.100000000000023px;background:#FFFFFF"></div>
<div class="c" style="left:1140px;top:679.3px;width:85px;height:26.100000000000023px;background:#FFFFFF"></div>
<div class="ct" style="left:128px;top:709.4px">Taiwan</div>
<div class="c" style="left:265px;top:705.4px;width:90.5px;height:26.600000000000023px;background:#F7726C"></div>
<div class="t" style="right:935.5px;top:709.65px">32%</div>
<div class="c" style="left:355.5px;top:705.4px;width:88.5px;height:26.600000000000023px;background:#FDCC7E"></div>
<div class="t" style="right:843.3px;top:709.65px">-73.9</div>
<div class="c" style="left:444px;top:705.4px;width:88px;height:26.600000000000023px;background:#FED580"></div>
<div class="t" style="right:747.6px;top:709.65px">24.5%</div>
<div class="c" style="left:532px;top:705.4px;width:88px;height:26.600000000000023px;background:#F8706C"></div>
<div class="t" style="right:666.6px;top:709.65px"><span class="o">I</span>.93</div>
<div class="c" style="left:620px;top:705.4px;width:87.79999999999995px;height:26.600000000000023px;background:#F8696B"></div>
<div class="t" style="right:573.4px;top:709.65px">4.8%</div>
<div class="c" style="left:707.8px;top:705.4px;width:89.80000000000007px;height:26.600000000000023px;background:#7DC67C"></div>
<div class="t" style="right:484.9px;top:709.65px"><span class="o">I</span>4.6%</div>
<div class="c" style="left:797.6px;top:705.4px;width:85.39999999999998px;height:26.600000000000023px;background:#BED880"></div>
<div class="t" style="right:407.1px;top:709.65px">-0.8</div>
<div class="c" style="left:883px;top:705.4px;width:85px;height:26.600000000000023px;background:#A2D07F"></div>
<div class="t" style="right:322.29999999999995px;top:709.65px"><span class="o">I</span>.5</div>
<div class="c" style="left:968px;top:705.4px;width:86.29999999999995px;height:26.600000000000023px;background:#63BE7B"></div>
<div class="t" style="right:231.70000000000005px;top:709.65px">24.2</div>
<div class="c" style="left:1054.3px;top:705.4px;width:85.70000000000005px;height:26.600000000000023px;background:#FFFFFF"></div>
<div class="c" style="left:1140px;top:705.4px;width:85px;height:26.600000000000023px;background:#FDCB7E"></div>
<div class="t" style="right:64.59999999999991px;top:709.65px">2.4</div>
<div class="a" style="left:120px;top:148.7px;width:143px;height:1.6px;background:#A8A8A8"></div>
<div class="a" style="left:265px;top:148.9px;width:960px;height:1.2px;background:#8c8c8c;mix-blend-mode:multiply"></div>
<div class="a" style="left:120px;top:175.0px;width:143px;height:1.6px;background:#A8A8A8"></div>
<div class="a" style="left:265px;top:175.20000000000002px;width:960px;height:1.2px;background:#8c8c8c;mix-blend-mode:multiply"></div>
<div class="a" style="left:120px;top:201.7px;width:143px;height:1.6px;background:#A8A8A8"></div>
<div class="a" style="left:265px;top:201.9px;width:960px;height:1.2px;background:#8c8c8c;mix-blend-mode:multiply"></div>
<div class="a" style="left:120px;top:227.89999999999998px;width:143px;height:1.6px;background:#A8A8A8"></div>
<div class="a" style="left:265px;top:228.1px;width:960px;height:1.2px;background:#8c8c8c;mix-blend-mode:multiply"></div>
<div class="a" style="left:120px;top:254.6px;width:143px;height:1.6px;background:#A8A8A8"></div>
<div class="a" style="left:265px;top:254.8px;width:960px;height:1.2px;background:#8c8c8c;mix-blend-mode:multiply"></div>
<div class="a" style="left:120px;top:281.5px;width:143px;height:1.6px;background:#A8A8A8"></div>
<div class="a" style="left:265px;top:281.7px;width:960px;height:1.2px;background:#8c8c8c;mix-blend-mode:multiply"></div>
<div class="a" style="left:120px;top:307.4px;width:143px;height:1.6px;background:#A8A8A8"></div>
<div class="a" style="left:265px;top:307.59999999999997px;width:960px;height:1.2px;background:#8c8c8c;mix-blend-mode:multiply"></div>
<div class="a" style="left:120px;top:333.5px;width:143px;height:1.6px;background:#A8A8A8"></div>
<div class="a" style="left:265px;top:333.7px;width:960px;height:1.2px;background:#8c8c8c;mix-blend-mode:multiply"></div>
<div class="a" style="left:120px;top:359.7px;width:143px;height:1.6px;background:#A8A8A8"></div>
<div class="a" style="left:265px;top:359.9px;width:960px;height:1.2px;background:#8c8c8c;mix-blend-mode:multiply"></div>
<div class="a" style="left:120px;top:386.5px;width:143px;height:1.6px;background:#A8A8A8"></div>
<div class="a" style="left:265px;top:386.7px;width:960px;height:1.2px;background:#8c8c8c;mix-blend-mode:multiply"></div>
<div class="a" style="left:120px;top:413.5px;width:143px;height:1.6px;background:#A8A8A8"></div>
<div class="a" style="left:265px;top:413.7px;width:960px;height:1.2px;background:#8c8c8c;mix-blend-mode:multiply"></div>
<div class="a" style="left:120px;top:439.9px;width:143px;height:1.6px;background:#A8A8A8"></div>
<div class="a" style="left:265px;top:440.09999999999997px;width:960px;height:1.2px;background:#8c8c8c;mix-blend-mode:multiply"></div>
<div class="a" style="left:120px;top:466.59999999999997px;width:143px;height:1.6px;background:#A8A8A8"></div>
<div class="a" style="left:265px;top:466.79999999999995px;width:960px;height:1.2px;background:#8c8c8c;mix-blend-mode:multiply"></div>
<div class="a" style="left:120px;top:493.4px;width:143px;height:1.6px;background:#A8A8A8"></div>
<div class="a" style="left:265px;top:493.59999999999997px;width:960px;height:1.2px;background:#8c8c8c;mix-blend-mode:multiply"></div>
<div class="a" style="left:120px;top:520.1px;width:143px;height:1.6px;background:#A8A8A8"></div>
<div class="a" style="left:265px;top:520.3px;width:960px;height:1.2px;background:#8c8c8c;mix-blend-mode:multiply"></div>
<div class="a" style="left:120px;top:546.7px;width:143px;height:1.6px;background:#A8A8A8"></div>
<div class="a" style="left:265px;top:546.9px;width:960px;height:1.2px;background:#8c8c8c;mix-blend-mode:multiply"></div>
<div class="a" style="left:120px;top:573.4000000000001px;width:143px;height:1.6px;background:#A8A8A8"></div>
<div class="a" style="left:265px;top:573.6px;width:960px;height:1.2px;background:#8c8c8c;mix-blend-mode:multiply"></div>
<div class="a" style="left:120px;top:599.5px;width:143px;height:1.6px;background:#A8A8A8"></div>
<div class="a" style="left:265px;top:599.6999999999999px;width:960px;height:1.2px;background:#8c8c8c;mix-blend-mode:multiply"></div>
<div class="a" style="left:120px;top:625.6px;width:143px;height:1.6px;background:#A8A8A8"></div>
<div class="a" style="left:265px;top:625.8px;width:960px;height:1.2px;background:#8c8c8c;mix-blend-mode:multiply"></div>
<div class="a" style="left:120px;top:652.2px;width:143px;height:1.6px;background:#A8A8A8"></div>
<div class="a" style="left:265px;top:652.4px;width:960px;height:1.2px;background:#8c8c8c;mix-blend-mode:multiply"></div>
<div class="a" style="left:120px;top:678.5px;width:143px;height:1.6px;background:#A8A8A8"></div>
<div class="a" style="left:265px;top:678.6999999999999px;width:960px;height:1.2px;background:#8c8c8c;mix-blend-mode:multiply"></div>
<div class="a" style="left:120px;top:704.6px;width:143px;height:1.6px;background:#A8A8A8"></div>
<div class="a" style="left:265px;top:704.8px;width:960px;height:1.2px;background:#8c8c8c;mix-blend-mode:multiply"></div>
<div class="a" style="left:265px;top:121.5px;width:960px;height:1.2px;background:#333"></div>
<div class="a" style="left:531.3px;top:12px;width:1.4px;height:34.5px;background:#8a8a8a"></div>
<div class="a" style="left:531.3px;top:46.5px;width:1.4px;height:75.5px;background:#555"></div>
<div class="a" style="left:531.3px;top:122px;width:1.4px;height:610px;background:rgba(20,40,40,0.75)"></div>
<div class="a" style="left:707.0999999999999px;top:12px;width:1.4px;height:34.5px;background:#8a8a8a"></div>
<div class="a" style="left:707.0999999999999px;top:46.5px;width:1.4px;height:75.5px;background:#555"></div>
<div class="a" style="left:707.0999999999999px;top:122px;width:1.4px;height:610px;background:rgba(20,40,40,0.75)"></div>
<div class="a" style="left:38px;top:731.5px;width:1188px;height:1.3px;background:#000"></div>
<div class="a" style="left:1225px;top:46.5px;width:1.2px;height:686px;background:#000"></div>
<div class="a" style="left:263px;top:46.5px;width:2px;height:686px;background:#000"></div>
<div class="hd" style="left:272px;top:75.32px;letter-spacing:0px">Reciprocal</div>
<div class="hd" style="left:272px;top:94.62px;letter-spacing:0px">Tariff</div>
<div class="hd" style="left:370px;top:56.019999999999996px;letter-spacing:0px">Trade</div>
<div class="hd" style="left:370px;top:75.32px;letter-spacing:0px">Bal. w/</div>
<div class="hd" style="left:370px;top:94.62px;letter-spacing:-0.3px">US ($bn)</div>
<div class="hd" style="left:447.4px;top:56.019999999999996px;letter-spacing:0px">Exports to</div>
<div class="hd" style="left:447.4px;top:75.32px;letter-spacing:0px">US/total</div>
<div class="hd" style="left:447.4px;top:94.62px;letter-spacing:0px">exports</div>
<div class="hd" style="left:550px;top:75.32px;letter-spacing:0px">Hit to</div>
<div class="hd" style="left:550px;top:94.62px;letter-spacing:0px">growth</div>
<div class="hd" style="left:633.9px;top:56.019999999999996px;letter-spacing:0px">Hit to</div>
<div class="hd" style="left:633.9px;top:75.32px;letter-spacing:0px">exports/</div>
<div class="hd" style="left:633.9px;top:94.62px;letter-spacing:0px">GDP</div>
<div class="hd" style="left:721.7px;top:75.32px;letter-spacing:0px">CA</div>
<div class="hd" style="left:721.7px;top:94.62px;letter-spacing:-1.0px">(% GDP)</div>
<div class="hd" style="left:805.2px;top:75.32px;letter-spacing:0px">Fiscal bal</div>
<div class="hd" style="left:805.2px;top:94.62px;letter-spacing:-1.0px">(% GDP)</div>
<div class="hd" style="left:906.8px;top:75.32px;letter-spacing:-1.1px">DSPB</div>
<div class="hd" style="left:906.8px;top:94.62px;letter-spacing:0px">Gap</div>
<div class="hd" style="left:980.6px;top:75.32px;letter-spacing:0px">Debt</div>
<div class="hd" style="left:980.6px;top:94.62px;letter-spacing:-1.0px">(% GDP)</div>
<div class="hd" style="left:1067.9px;top:94.62px;letter-spacing:0px">Int/Rev</div>
<div class="hd" style="left:1145.7px;top:75.32px;letter-spacing:0px">Domestic</div>
<div class="hd" style="left:1145.7px;top:94.62px;letter-spacing:0px">demand</div>
<div class="a" style="left:264px;top:12px;width:3px;height:1px;background:#ddd"></div>
<div class="a" style="left:264px;top:12px;width:1px;height:3px;background:#ccc"></div>
<div class="a" style="left:1223px;top:11.5px;width:3px;height:1px;background:#eee"></div>
</body></html>
